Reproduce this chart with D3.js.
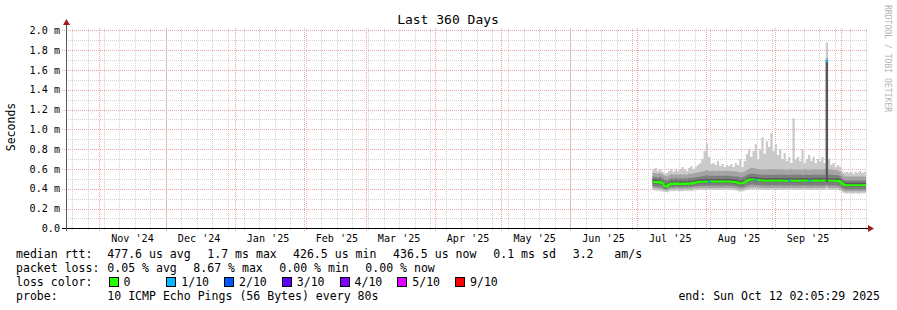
<!DOCTYPE html>
<html><head><meta charset="utf-8">
<script src="https://cdn.jsdelivr.net/npm/d3@7"></script>
<style>
html,body{margin:0;padding:0;background:#fff;}
svg{display:block;font-family:"DejaVu Sans Mono",monospace;}
</style></head><body>
<svg id="c" width="897" height="310"></svg>
<script>
// ---------------- data ----------------
const titleText = "Last 360 Days";
const unitText = "Seconds";
const watermark = "RRDTOOL / TOBI OETIKER";
const endStamp = "2025-10-12T02:05:29Z";
const spanDays = 360;
const firstDay = "2025-07-08";           // first daily bucket (96 daily buckets)
const yTickValues = [0,0.2,0.4,0.6,0.8,1.0,1.2,1.4,1.6,1.8,2.0];
const yTickLabels = ["0.0","0.2 m","0.4 m","0.6 m","0.8 m","1.0 m","1.2 m","1.4 m","1.6 m","1.8 m","2.0 m"];
const monthLabels = ["Nov '24","Dec '24","Jan '25","Feb '25","Mar '25","Apr '25","May '25","Jun '25","Jul '25","Aug '25","Sep '25"];

// median rtt in ms, one per day from Jul 8 to Oct 11
const medMs = [
 .470,.468,.462,.470,.455,.430,.420,
 .440,.452,.448,.455,.445,.450,.446,
 .452,.448,.455,.450,.458,.462,.466,.470,.470,.471,
 .472,.470,.474,.472,.471,.473,.472,.470,.472,.473,
 .472,.470,.468,.465,.460,.452,.455,.462,.480,.488,
 .492,.493,.490,.486,.484,.482,.480,.481,.480,.482,.480,
 .481,.480,.482,.480,.481,.479,.480,.482,.480,.481,
 .480,.481,.480,.482,.480,.479,.481,.480,.482,.480,
 .481,.480,.482,1.69,.482,.481,.480,.479,.478,.470,
 .450,.438,.435,.436,.435,.434,.436,.435,.434,.436,.436];
// lost pings (of 10) per day
const lossCnt = [
 0,0,0,0,0,0,0, 0,0,0,0,0,0,0, 0,0,0,0,0,0,0,0,0,0,
 0,1,0,0,0,0,0,0,0,0, 0,0,0,0,0,0,0,0,0,0,
 0,0,1,0,0,0,0,0,0,0,0, 0,0,0,0,0,0,1,0,0,0,
 0,0,0,0,0,1,0,0,0,0, 0,0,0,1,0,0,0,0,0,0,
 0,0,0,0,0,0,0,0,0,0,0];
// smoke: sorted ping levels (ms), lowest (p1) to highest (p10)
const p1Ms = [
 .385,.380,.382,.378,.372,.368,.365,
 .372,.378,.375,.380,.376,.378,.375,
 .380,.378,.380,.378,.382,.384,.385,.386,.386,.386,
 .388,.386,.388,.387,.386,.388,.387,.386,.388,.388,
 .387,.386,.384,.382,.378,.372,.375,.380,.388,.392,
 .395,.395,.394,.392,.390,.389,.388,.388,.388,.389,.388,
 .389,.388,.389,.388,.388,.387,.388,.389,.388,.388,
 .388,.388,.387,.389,.388,.387,.388,.388,.389,.388,
 .388,.388,.389,.400,.388,.388,.387,.387,.386,.380,
 .365,.355,.352,.353,.352,.352,.353,.352,.352,.353,.353];
const p2Ms = [
 .405,.402,.400,.398,.392,.385,.382,.392,.398,.395,.400,.396,.398,.395,.400,.398,.400,.398,.402,.404,.405,.406,.406,.406,
 .408,.406,.408,.407,.406,.408,.407,.406,.408,.408,.407,.406,.404,.402,.398,.392,.395,.400,.408,.412,
 .415,.415,.414,.412,.410,.409,.408,.408,.408,.409,.408,.409,.408,.409,.408,.408,.407,.408,.409,.408,.408,
 .408,.408,.407,.409,.408,.407,.408,.408,.409,.408,.408,.408,.409,.420,.408,.408,.407,.407,.406,.400,
 .385,.375,.372,.373,.372,.372,.373,.372,.372,.373,.373];
const p3Ms = [
 .425,.422,.420,.420,.410,.398,.395,.410,.418,.415,.420,.416,.418,.415,.420,.418,.420,.418,.422,.425,.428,.430,.430,.430,
 .432,.430,.432,.431,.430,.432,.431,.430,.432,.432,.431,.430,.428,.425,.420,.412,.415,.422,.432,.438,
 .442,.442,.440,.438,.436,.434,.433,.433,.433,.434,.433,.434,.433,.434,.433,.433,.432,.433,.434,.433,.433,
 .433,.433,.432,.434,.433,.432,.433,.433,.434,.433,.433,.433,.434,.440,.433,.433,.432,.432,.431,.425,
 .405,.395,.392,.393,.392,.392,.393,.392,.392,.393,.393];
const p4Ms = [
 .455,.452,.446,.454,.440,.415,.405,
 .425,.437,.433,.440,.430,.435,.431,
 .437,.433,.440,.435,.443,.447,.451,.455,.455,.456,
 .457,.455,.459,.457,.456,.458,.457,.455,.457,.458,
 .457,.455,.453,.450,.445,.437,.440,.447,.465,.473,
 .477,.478,.475,.471,.469,.467,.465,.466,.465,.467,.465,
 .466,.465,.467,.465,.466,.464,.465,.467,.465,.466,
 .465,.466,.465,.467,.465,.464,.466,.465,.467,.465,
 .466,.465,.467,.470,.467,.466,.465,.464,.463,.455,
 .435,.423,.420,.421,.420,.419,.421,.420,.419,.421,.421];
const p7Ms = [
 .495,.493,.487,.495,.480,.455,.445,
 .465,.477,.473,.480,.470,.475,.471,
 .477,.473,.480,.475,.483,.487,.491,.495,.495,.496,
 .497,.495,.499,.497,.496,.498,.497,.495,.497,.498,
 .497,.495,.493,.490,.485,.477,.480,.487,.505,.513,
 .517,.518,.515,.511,.509,.507,.505,.506,.505,.507,.505,
 .506,.505,.507,.505,.506,.504,.505,.507,.505,.506,
 .505,.506,.505,.507,.505,.504,.506,.505,.507,.505,
 .506,.505,.507,1.69,.507,.506,.505,.504,.503,.495,
 .475,.463,.460,.461,.460,.459,.461,.460,.459,.461,.461];
const p8Ms = [
 .520,.515,.510,.520,.505,.490,.485,.495,.505,.500,.505,.500,.505,.500,.505,.500,.508,.505,.512,.515,.518,.522,.525,.530,
 .535,.530,.532,.530,.528,.532,.530,.528,.530,.532,.530,.528,.526,.524,.520,.512,.515,.522,.535,.545,
 .550,.552,.548,.545,.542,.540,.540,.540,.540,.542,.540,.542,.540,.542,.540,.540,.538,.540,.542,.540,.540,
 .540,.540,.538,.542,.540,.538,.540,.540,.542,.540,.540,.540,.542,1.70,.540,.540,.538,.538,.535,.525,
 .500,.485,.482,.483,.482,.482,.483,.482,.482,.483,.483];
const p9Ms = [
 .560,.555,.550,.558,.545,.530,.525,.535,.545,.540,.545,.540,.545,.540,.545,.542,.550,.548,.555,.560,.565,.570,.575,.580,
 .590,.580,.582,.580,.578,.582,.580,.578,.580,.582,.580,.578,.576,.574,.570,.560,.565,.572,.590,.600,
 .610,.612,.605,.600,.598,.595,.595,.595,.596,.598,.595,.598,.595,.598,.595,.595,.592,.595,.598,.595,.595,
 .595,.595,.592,.598,.595,.592,.595,.595,.598,.595,.595,.595,.598,1.72,.595,.595,.592,.590,.585,.570,
 .540,.525,.522,.523,.522,.522,.523,.522,.522,.523,.523];
const p10Ms = [
 .600,.610,.580,.600,.570,.550,.560,
 .580,.600,.570,.590,.580,.600,.620,
 .600,.580,.610,.630,.600,.620,.640,.660,.700,.780,
 .860,.720,.650,.660,.640,.680,.630,.650,.620,.640,
 .630,.650,.620,.660,.640,.700,.620,.680,.750,.800,
 .720,.780,.850,.700,.800,.920,.750,.880,.820,.960,.780,
 .850,.740,.800,.700,.760,.680,.720,.660,1.11,.700,
 .720,.680,.800,.660,.700,.740,.680,.720,.660,.700,
 .680,.720,.660,1.88,.700,.640,.660,.620,.640,.620,
 .580,.560,.570,.560,.570,.550,.570,.560,.580,.560,.570];

const lossColors = ["#26ff00","#00b8ff","#0059ff","#5e00ff","#7e00ff","#dd00ff","#ff0000"];
const lossNames  = ["0","1/10","2/10","3/10","4/10","5/10","9/10"];
const lossIndexOf = {0:0,1:1,2:2,3:3,4:4,5:5,6:5,7:5,8:5,9:6,10:6};

const legendRows = [
  [["median rtt:",16],["477.6 us avg",107.3],["1.7 ms max",207.3],["426.5 us min",293],["436.5 us now",393],["0.1 ms sd",493.3],["3.2",572.7],["am/s",614.3]],
  [["packet loss:",16],["0.05 % avg",107.3],["8.67 % max",193.3],["0.00 % min",279.3],["0.00 % now",365.3]],
  [["loss color:",16]],
  [["probe:",16],["10 ICMP Echo Pings (56 Bytes) every 80s",107.3]]
];
const endLabel = "end: Sun Oct 12 02:05:29 2025";

// ---------------- drawing ----------------
const svg = d3.select("#c");
const X0 = 66, X1 = 866, YB = 228, YT = 28;
const end = new Date(endStamp);
const start = new Date(+end - spanDays*864e5);
const x = d3.scaleUtc().domain([start, end]).range([X0, X1]);
const y = d3.scaleLinear().domain([0, 2.0]).range([228.3, 30.3]);

svg.append("rect").attr("width",897).attr("height",310).attr("fill","#fff");

const days = d3.utcDay.range(new Date(firstDay+"T00:00:00Z"), d3.utcDay.floor(end)).slice(0, medMs.length);
const pts = days.map((d,i)=>({t:d, med:medMs[i], loss:lossCnt[i], p1:p1Ms[i], p2:p2Ms[i], p3:p3Ms[i], p4:p4Ms[i], p7:p7Ms[i], p8:p8Ms[i], p9:p9Ms[i], p10:p10Ms[i]}));
const ptsEnd = pts.concat([Object.assign({}, pts[pts.length-1], {t:end})]);

const gGrid = svg.append("g").attr("shape-rendering","crispEdges");
const px = v => Math.round(v)+0.5;

// minor horizontal grid (every 0.1)
d3.range(1,20,2).map(k=>k/10).forEach(v=>{
  gGrid.append("line").attr("x1",X0).attr("x2",X1+2).attr("y1",px(y(v))).attr("y2",px(y(v)))
   .attr("stroke","#cfcfcf").attr("stroke-dasharray","1,1");
});
// weekly vertical grid
d3.utcSunday.range(start, end).forEach(d=>{
  gGrid.append("line").attr("x1",px(x(d))).attr("x2",px(x(d))).attr("y1",YB+2).attr("y2",YT)
   .attr("stroke","#cfcfcf").attr("stroke-dasharray","1,1");
});
// monthly vertical grid
d3.utcMonth.range(start, end).forEach(d=>{
  gGrid.append("line").attr("x1",px(x(d))).attr("x2",px(x(d))).attr("y1",YB+3).attr("y2",YT)
   .attr("stroke","#eaa6a6").attr("stroke-dasharray","1,1");
});
// major horizontal grid
yTickValues.forEach(v=>{
  if (v===0) return;
  gGrid.append("line").attr("x1",X0-4).attr("x2",X1+2).attr("y1",px(y(v))).attr("y2",px(y(v)))
   .attr("stroke","#eaa6a6").attr("stroke-dasharray","1,1");
});

// smoke (nested bands, lighter outside)
const band = (lo,hi)=>d3.area().curve(d3.curveStepAfter).x(d=>x(d.t)).y0(d=>y(d[lo])).y1(d=>y(d[hi]));
svg.append("path").datum(ptsEnd).attr("d",band("p1","p10")).attr("fill","#cacaca");
svg.append("path").datum(ptsEnd).attr("d",band("p2","p9")).attr("fill","#a4a4a4");
svg.append("path").datum(ptsEnd).attr("d",band("p3","p8")).attr("fill","#7e7e7e");
svg.append("path").datum(ptsEnd).attr("d",band("p4","p7")).attr("fill","#585858");
const medLine = d3.line().curve(d3.curveStepAfter).x(d=>x(d.t)).y(d=>y(d.med));

// coloured median: runs of same loss class
let runs = [], cur = null;
pts.forEach((p,i)=>{
  const c = lossIndexOf[p.loss];
  if (!cur || cur.c!==c) { cur = {c, pts:[]}; runs.push(cur); }
  cur.pts.push(p);
});
runs.forEach(r=>{
  const last = r.pts[r.pts.length-1];
  const idx = pts.indexOf(last);
  const tEnd = idx+1 < pts.length ? pts[idx+1].t : end;
  const arr = r.pts.concat([Object.assign({}, last, {t:tEnd})]);
  svg.append("path").datum(arr).attr("d",medLine).attr("fill","none")
    .attr("stroke",lossColors[r.c]).attr("stroke-width",2);
});

// axes
const gAx = svg.append("g").attr("shape-rendering","crispEdges");
gAx.append("line").attr("x1",X0-4).attr("x2",X1+3).attr("y1",228.5).attr("y2",228.5).attr("stroke","#000");
gAx.append("line").attr("x1",X0+0.5).attr("x2",X0+0.5).attr("y1",231).attr("y2",24).attr("stroke","#555");
svg.append("path").attr("d",`M${X1+2},225 L${X1+8},228.5 L${X1+2},232 Z`).attr("fill","#a11a1a");
svg.append("path").attr("d",`M${X0-3},25 L${X0+0.5},19 L${X0+4},25 Z`).attr("fill","#a11a1a");

// y labels
yTickValues.forEach((v,i)=>{
  svg.append("text").attr("x",60).attr("y",y(v)+3.6).attr("text-anchor","end")
    .attr("font-size","10.1px").attr("fill","#000").text(yTickLabels[i]);
});
// x labels (centered mid-month)
d3.utcMonth.range(start, end).forEach((m,i)=>{
  const c = d3.utcDay.offset(m,15);
  if (c > end || i >= monthLabels.length) return;
  svg.append("text").attr("x",x(c)).attr("y",242).attr("text-anchor","middle")
    .attr("font-size","10.1px").text(monthLabels[i]);
});

// title, unit, watermark
svg.append("text").attr("x",448).attr("y",24).attr("text-anchor","middle").attr("font-size","13px").text(titleText);
svg.append("text").attr("transform","translate(15,127) rotate(-90)").attr("text-anchor","middle")
  .attr("font-size","11.5px").text(unitText);
svg.append("text").attr("transform","translate(884.5,5) rotate(90)").attr("font-size","8.1px")
  .attr("fill","#b4b4b4").text(watermark);

// legend
const rowY = [258, 272, 286, 300];
legendRows.forEach((row,r)=>{
  row.forEach(([t,xx])=>{
    svg.append("text").attr("x",xx).attr("y",rowY[r]).attr("font-size","11.56px")
      .style("white-space","pre").text(t);
  });
});
lossNames.forEach((n,i)=>{
  const bx = 108.5 + i*57.75;
  svg.append("rect").attr("x",Math.round(bx)+0.5).attr("y",277.5).attr("width",9).attr("height",9)
    .attr("fill",lossColors[i]).attr("stroke","#000").attr("stroke-width",1);
  svg.append("text").attr("x",bx+15).attr("y",rowY[2]).attr("font-size","11.56px").text(n);
});
svg.append("text").attr("x",880).attr("y",rowY[3]).attr("text-anchor","end").attr("font-size","11.56px").text(endLabel);
</script>
</body></html>
